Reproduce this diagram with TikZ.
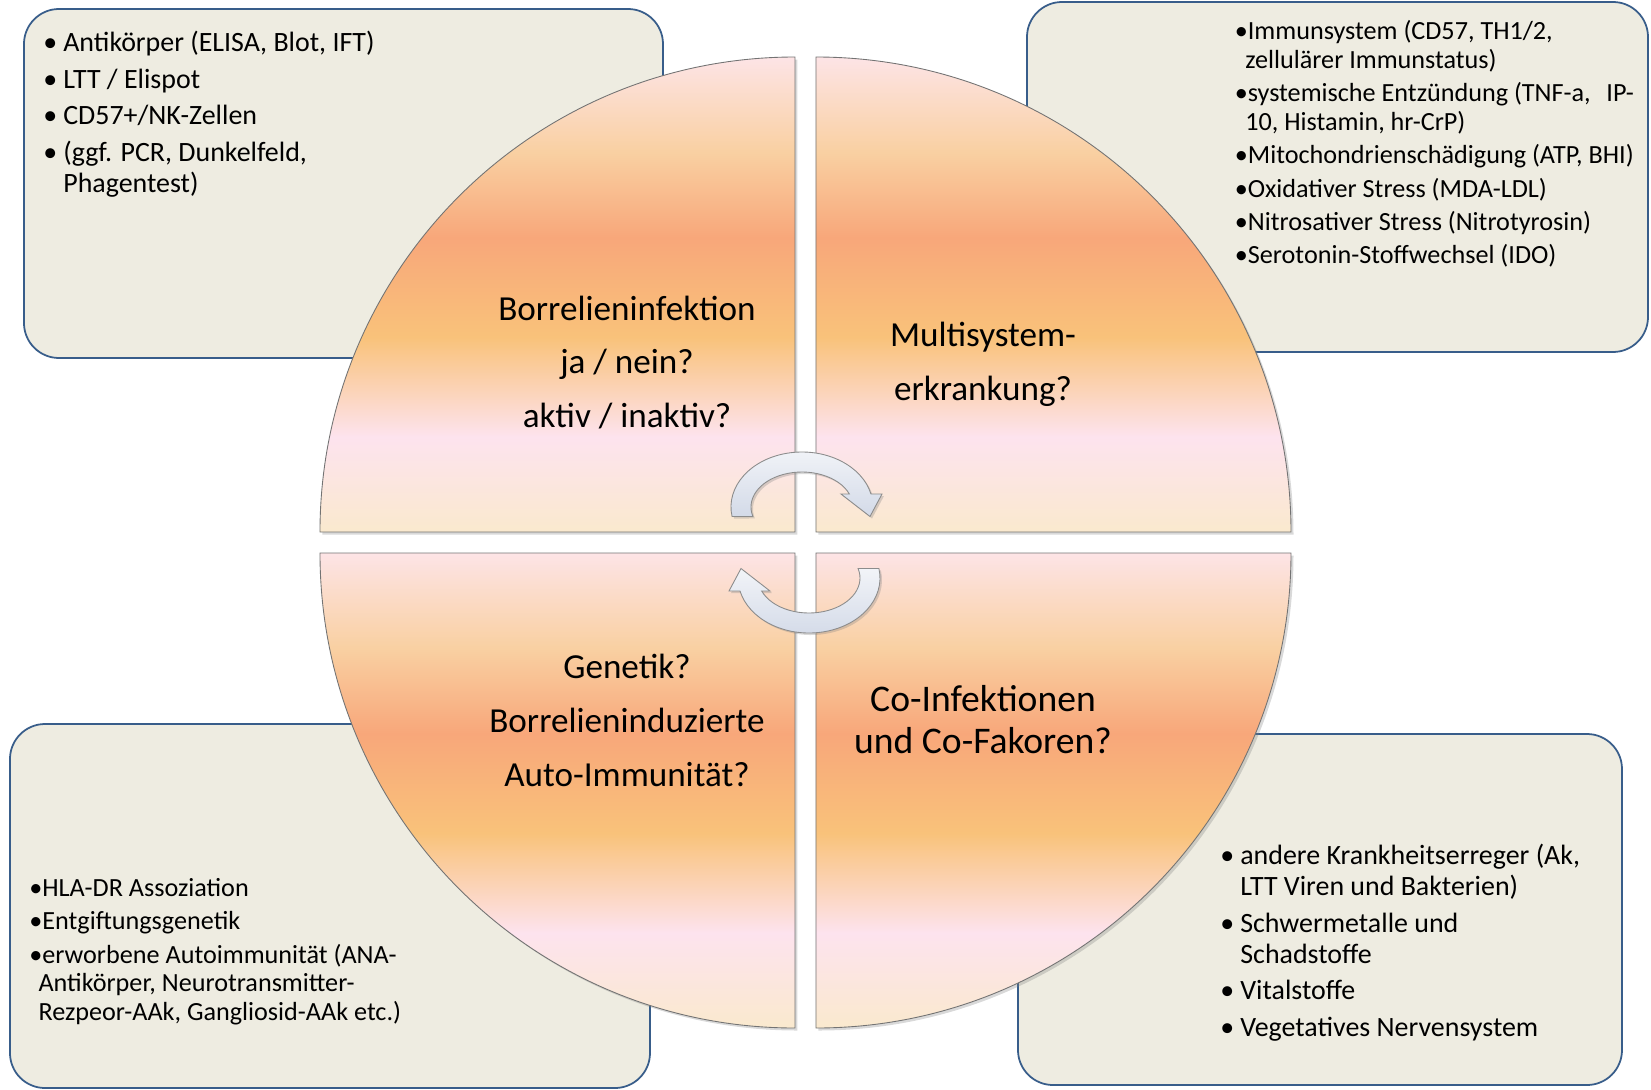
\documentclass[tikz,border=0pt]{standalone}
\usepackage{fontspec}
\setmainfont{Carlito}
\usetikzlibrary{shadows}

\definecolor{boxfill}{HTML}{EEECE1}
\definecolor{boxline}{HTML}{385D8A}
\definecolor{qpink}{HTML}{FDE4E6}
\definecolor{qpeach}{HTML}{F9D0A2}
\definecolor{qsalmon}{HTML}{F8A77A}
\definecolor{qorange}{HTML}{F9C27A}
\definecolor{qrose}{HTML}{FDE3EE}
\definecolor{qcream}{HTML}{FAE9CE}
\definecolor{arrowtop}{HTML}{F2F4F8}
\definecolor{arrowbottom}{HTML}{D3DAE8}

\pgfdeclareverticalshading{quartershade}{100bp}{color(0bp)=(qcream); color(25bp)=(qcream);
  color(35bp)=(qrose); color(45.5bp)=(qorange); color(56bp)=(qsalmon);
  color(65bp)=(qpeach); color(75bp)=(qpink); color(100bp)=(qpink)}

\newcommand{\bul}{\makebox[0.4cm][l]{•}}

\begin{document}
\begin{tikzpicture}[
  infobox/.style={draw=boxline,fill=boxfill,line width=1pt,rounded corners=0.7cm},
  quarter/.style={shade,shading=quartershade,draw=black!55,line width=0.5pt,
    drop shadow={opacity=0.3,shadow xshift=0.05cm,shadow yshift=-0.05cm}},
  cyclearrow/.style={draw=black!45,line width=0.5pt,top color=arrowtop,bottom color=arrowbottom,
    drop shadow={opacity=0.3,shadow xshift=0.04cm,shadow yshift=-0.04cm}},
  question/.style={align=center,font=\fontsize{20}{30.7}\selectfont},
  biglist/.style={anchor=north west,align=left,inner sep=0pt,font=\fontsize{15.9}{17.6}\selectfont},
  smalllist/.style={anchor=north west,align=left,inner sep=0pt,font=\fontsize{14.9}{16.2}\selectfont}
]
\useasboundingbox (-16.11,-10.93) rectangle (16.91,10.85);

\draw[infobox] (-15.63,3.69) rectangle (-2.85,10.67);
\draw[infobox] (4.43,3.81) rectangle (16.85,10.81);
\draw[infobox] (-15.91,-10.91) rectangle (-3.11,-3.63);
\draw[infobox] (4.25,-10.85) rectangle (16.33,-3.83);

\path[quarter] (-0.21,0.21) -- (-9.71,0.21) arc[start angle=180,end angle=90,radius=9.5cm] -- cycle;
\path[quarter] (0.21,0.21) -- (0.21,9.71) arc[start angle=90,end angle=0,radius=9.5cm] -- cycle;
\path[quarter] (-0.21,-0.21) -- (-0.21,-9.71) arc[start angle=270,end angle=180,radius=9.5cm] -- cycle;
\path[quarter] (0.21,-0.21) -- (9.71,-0.21) arc[start angle=0,end angle=-90,radius=9.5cm] -- cycle;

\foreach \rot in {0,180}
  \path[cyclearrow,rotate=\rot,shift={(-0.07,0.71)}]
    (190:1.42 and 1.10) arc[start angle=190,end angle=13.7,x radius=1.42cm,y radius=1.10cm]
    -- (1.60,0.26) -- (1.36,-0.19) -- (0.78,0.26)
    -- (21.8:1.02 and 0.70) arc[start angle=21.8,end angle=195.7,x radius=1.02cm,y radius=0.70cm]
    -- cycle;

\node[question] (infektion) at (-3.57,3.60) {Borrelieninfektion\\ja / nein?\\aktiv / inaktiv?};
\node[question] (multisystem) at (3.55,3.57) {Multisystem-\\erkrankung?};
\node[question] (genetik) at (-3.57,-3.55) {Genetik?\\Borrelieninduzierte\\Auto-Immunität?};
\node[question,font=\fontsize{21.4}{23.9}\selectfont] (cofaktor) at (3.55,-3.55) {Co-Infektionen\\und Co-Fakoren?};

\node[biglist] (labor) at (-15.25,10.23) {\bul Antikörper (ELISA, Blot, IFT)\\[3.2pt]
  \bul LTT / Elispot\\[3.2pt]
  \bul CD57+/NK-Zellen\\[3.2pt]
  \bul (ggf. PCR, Dunkelfeld,\\
  \hspace*{0.4cm}Phagentest)};
\node[smalllist] (systeme) at (8.58,10.44) {•Immunsystem (CD57, TH1/2,\\
  \hspace*{0.4em}zellulärer Immunstatus)\\[2.8pt]
  •systemische Entzündung (TNF-a,\hspace{0.6em}IP-\\
  \hspace*{0.4em}10, Histamin, hr-CrP)\\[2.8pt]
  •Mitochondrienschädigung (ATP, BHI)\\[2.8pt]
  •Oxidativer Stress (MDA-LDL)\\[2.8pt]
  •Nitrosativer Stress (Nitrotyrosin)\\[2.8pt]
  •Serotonin-Stoffwechsel (IDO)};
\node[smalllist] (genliste) at (-15.53,-6.71) {•HLA-DR Assoziation\\[2.8pt]
  •Entgiftungsgenetik\\[2.8pt]
  •erworbene Autoimmunität (ANA-\\
  \hspace*{0.35em}Antikörper, Neurotransmitter-\\
  \hspace*{0.35em}Rezpeor-AAk, Gangliosid-AAk etc.)};
\node[biglist] (erreger) at (8.29,-6.03) {\bul andere Krankheitserreger (Ak,\\
  \hspace*{0.4cm}LTT Viren und Bakterien)\\[3.2pt]
  \bul Schwermetalle und\\
  \hspace*{0.4cm}Schadstoffe\\[3.2pt]
  \bul Vitalstoffe\\[3.2pt]
  \bul Vegetatives Nervensystem};
\end{tikzpicture}
\end{document}
